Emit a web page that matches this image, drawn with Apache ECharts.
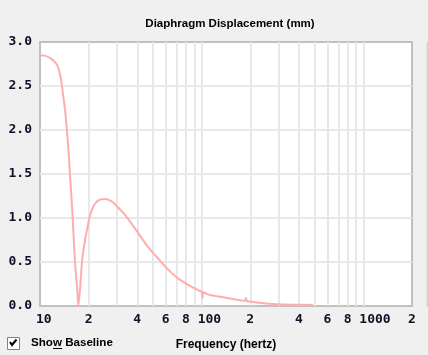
<!DOCTYPE html>
<html>
<head>
<meta charset="utf-8">
<script src="https://cdn.jsdelivr.net/npm/echarts@6/dist/echarts.min.js"></script>
<style>
html,body{margin:0;padding:0;background:#f0f0f0;}
#c{width:428px;height:355px;}
</style>
</head>
<body>
<div id="c"></div>
<script>
// Frequency (Hz) and diaphragm displacement (mm)
var freqHz = [10, 10.7, 11.5, 12.1, 12.7, 13.0, 13.3, 13.6, 13.9, 14.3, 14.6, 15.0, 15.3, 15.55, 15.93, 16.46, 17.01, 17.25, 17.67, 18.19, 18.98, 19.89, 20.18, 21.36, 22.94, 25.23, 27.76, 30.06, 34.38, 39.97, 45.7, 55.2, 60.8, 70, 82.6, 97.6, 100.3, 101.2, 102.2, 112.5, 136, 164.6, 185.5, 188, 190.5, 199, 240, 291, 380, 488];
var displacementMm = [2.85, 2.845, 2.82, 2.79, 2.745, 2.70, 2.63, 2.53, 2.40, 2.22, 2.04, 1.78, 1.50, 1.32, 1.0, 0.5, 0.18, 0.0, 0.18, 0.5, 0.75, 0.94, 1.0, 1.13, 1.20, 1.216, 1.19, 1.13, 1.01, 0.845, 0.69, 0.515, 0.43, 0.325, 0.24, 0.17, 0.165, 0.09, 0.155, 0.125, 0.10, 0.07, 0.06, 0.094, 0.055, 0.05, 0.03, 0.02, 0.015, 0.012];
var xGridValues = [10, 20, 30, 40, 50, 60, 70, 80, 90, 100, 200, 300, 400, 500, 600, 700, 800, 900, 1000, 2000];
var xTickValues = [10, 20, 40, 60, 80, 100, 200, 400, 600, 800, 1000, 2000];
var xTickLabels = ['10', '2', '4', '6', '8', '100', '2', '4', '6', '8', '1000', '2'];
var yMin = 0, yMax = 3, yStep = 0.5;

var chart = echarts.init(document.getElementById('c'), null, {renderer: 'canvas'});
var monoFont = '"DejaVu Sans Mono", monospace';
var sansFont = '"Liberation Sans", Arial, sans-serif';

var data = freqHz.map(function (f, i) { return [f, displacementMm[i]]; });

chart.setOption({
  animation: false,
  backgroundColor: '#f0f0f0',
  title: {
    text: 'Diaphragm Displacement (mm)',
    left: 225, top: 13, textAlign: 'center',
    textStyle: {fontFamily: sansFont, fontSize: 11.5, fontWeight: 'bold', color: '#000'}
  },
  grid: {
    left: 40, right: 16, top: 42, bottom: 49,
    show: true, backgroundColor: '#ffffff', borderColor: '#c0c0c0', borderWidth: 2,
    outerBoundsMode: 'none', containLabel: false
  },
  xAxis: {
    type: 'log', logBase: 10, min: 10, max: 2000,
    name: 'Frequency (hertz)', nameLocation: 'middle', nameGap: 33,
    nameTextStyle: {fontFamily: sansFont, fontSize: 12, fontWeight: 'bold', color: '#000'},
    axisLine: {show: false},
    axisTick: {show: false, customValues: xGridValues},
    splitLine: {show: true, showMinLine: false, showMaxLine: false, lineStyle: {color: '#e8e8e8', width: 2}},
    axisLabel: {
      customValues: xTickValues,
      showMinLabel: true, showMaxLabel: true,
      hideOverlap: false,
      margin: 7, align: 'left', padding: [0, 0, 0, -4],
      fontFamily: monoFont, fontSize: 13, fontWeight: 'bold', color: '#101028',
      formatter: function (v) {
        for (var i = 0; i < xTickValues.length; i++) {
          if (Math.abs(xTickValues[i] - v) / v < 1e-6) return xTickLabels[i];
        }
        return '';
      }
    }
  },
  yAxis: {
    type: 'value', min: yMin, max: yMax, interval: yStep,
    axisLine: {show: false},
    axisTick: {show: false},
    splitLine: {show: true, showMinLine: false, showMaxLine: false, lineStyle: {color: '#e8e8e8', width: 2}},
    axisLabel: {
      margin: 8,
      fontFamily: monoFont, fontSize: 13, fontWeight: 'bold', color: '#101028',
      formatter: function (v) { return v.toFixed(1); }
    }
  },
  series: [{
    type: 'line',
    data: data,
    showSymbol: false,
    symbol: 'none',
    smooth: 0.25,
    lineStyle: {color: '#ffadad', width: 2},
    z: 3
  }],
  graphic: [
    {type: 'rect', shape: {x: 7.5, y: 337.5, width: 12, height: 12}, style: {fill: '#ffffff', stroke: '#808080', lineWidth: 1}},
    {type: 'polyline', shape: {points: [[10, 342], [12, 345], [16.5, 339.5]]}, style: {stroke: '#000', lineWidth: 2, fill: null}},
    {type: 'text', x: 31, y: 342.5, style: {text: 'Show Baseline', fontFamily: sansFont, fontSize: 11.6, fontWeight: 'bold', fill: '#000', verticalAlign: 'middle'}},
    {type: 'line', shape: {x1: 53, y1: 348.5, x2: 62, y2: 348.5}, style: {stroke: '#000', lineWidth: 1}},
    {type: 'line', shape: {x1: 427.5, y1: 42, x2: 427.5, y2: 307}, style: {stroke: '#d4d4d4', lineWidth: 2}}
  ]
});
</script>
</body>
</html>
